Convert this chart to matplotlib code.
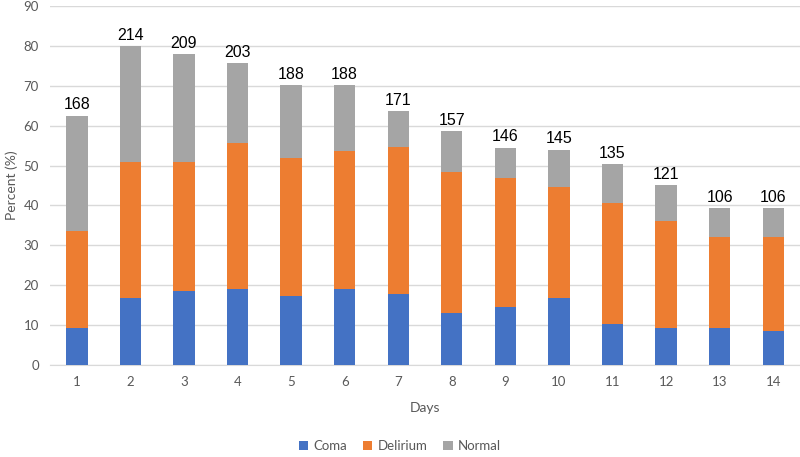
import matplotlib
matplotlib.use("Agg")
import matplotlib.pyplot as plt
import numpy as np

days = list(range(1, 15))
coma = [9.4, 16.8, 18.5, 19.0, 17.2, 19.0, 17.9, 13.0, 14.5, 16.8, 10.4, 9.3, 9.3, 8.5]
delirium_top = [33.6, 51.0, 51.0, 55.6, 51.9, 53.6, 54.7, 48.4, 46.9, 44.7, 40.5, 36.2, 32.0, 32.0]
total = [62.5, 79.9, 78.0, 75.7, 70.1, 70.1, 63.7, 58.6, 54.5, 54.0, 50.3, 45.1, 39.4, 39.4]
counts = [168, 214, 209, 203, 188, 188, 171, 157, 146, 145, 135, 121, 106, 106]

coma = np.array(coma)
delirium = np.array(delirium_top) - coma
normal = np.array(total) - np.array(delirium_top)

fig = plt.figure(figsize=(8, 4.57), dpi=100)
ax = fig.add_axes([0.0625, 0.2013, 0.9375, 0.7857])

w = 0.4
ax.bar(days, coma, w, color="#4472C4", label="Coma", zorder=3)
ax.bar(days, delirium, w, bottom=coma, color="#ED7D31", label="Delirium", zorder=3)
ax.bar(days, normal, w, bottom=coma + delirium, color="#A5A5A5", label="Normal", zorder=3)

# sample sizes above bars
for d, t, n in zip(days, total, counts):
    ax.text(d, t + 0.8, str(n), ha="center", va="bottom", fontsize=11.5,
            family="Liberation Sans", color="black")

ax.set_xlim(0.5, 14.5)
ax.set_ylim(0, 90)
ax.set_yticks(range(0, 91, 10))
ax.set_xticks(days)
ax.grid(axis="y", color="#D9D9D9", linewidth=1, zorder=0)
for s in ["top", "right", "left"]:
    ax.spines[s].set_visible(False)
ax.spines["bottom"].set_color("#D9D9D9")
ax.tick_params(length=0, labelsize=9.5, labelcolor="#595959", pad=8)
for lbl in ax.get_xticklabels() + ax.get_yticklabels():
    lbl.set_family("Lato")

ax.set_xlabel("Days", fontsize=10, color="#595959", family="Lato", labelpad=10)
ax.set_ylabel("Percent (%)", fontsize=10, color="#595959", family="Lato", labelpad=4)

leg = fig.legend(loc="lower center", ncol=3, frameon=False, bbox_to_anchor=(0.5, -0.016),
                 prop={"family": "Lato", "size": 9.5}, handlelength=0.7, handleheight=0.7,
                 handletextpad=0.4, columnspacing=1.2)
for t in leg.get_texts():
    t.set_color("#595959")

fig.savefig("out.png", dpi=100)
